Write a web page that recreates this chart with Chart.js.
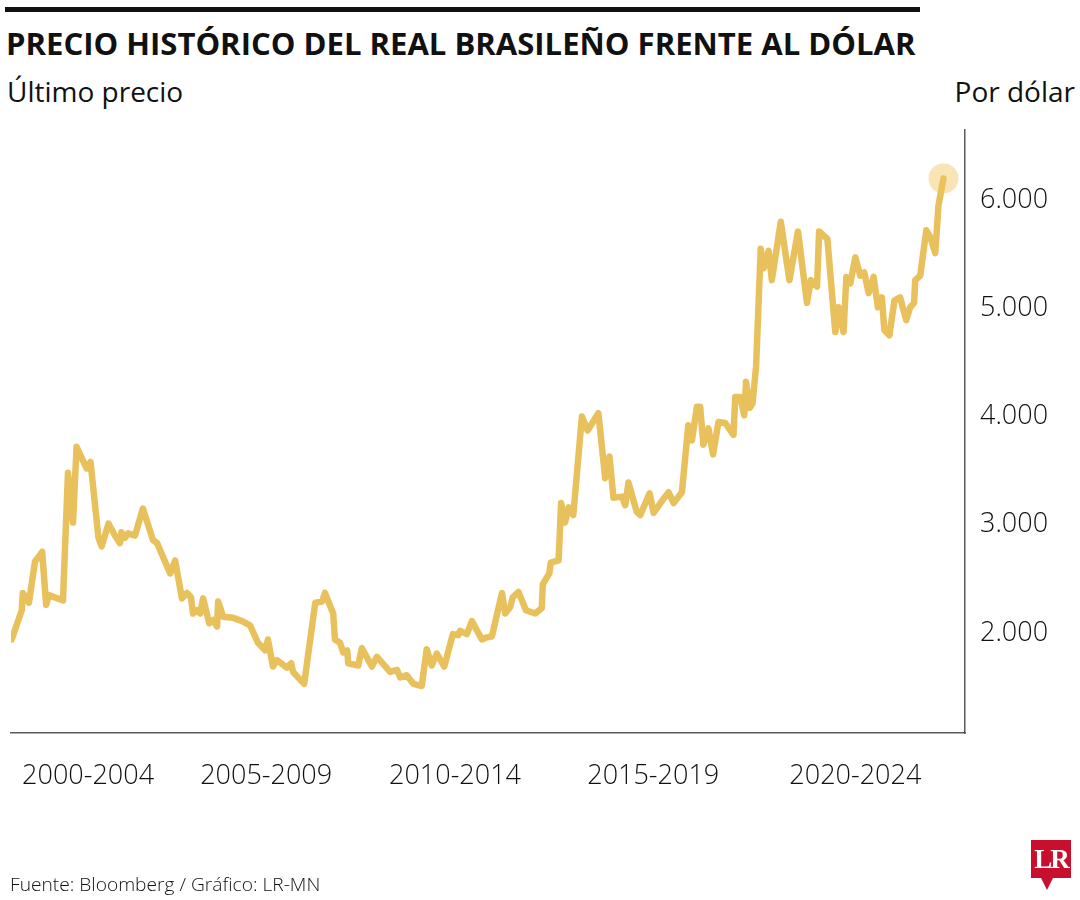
<!DOCTYPE html>
<html lang="es">
<head>
<meta charset="utf-8">
<title>Precio histórico del real brasileño frente al dólar</title>
<script src="https://cdn.jsdelivr.net/npm/chart.js@4.4.1/dist/chart.umd.min.js"></script>
<style>
  html, body { margin: 0; padding: 0; background: #fff; }
  #wrap { position: relative; width: 1080px; height: 900px; overflow: hidden; font-family: "Open Sans", sans-serif; color: #111; }
  #chart { position: absolute; left: 0; top: 0; }
  .bar { position: absolute; left: 5px; top: 7px; width: 915px; height: 5px; background: #111; }
  .txt { position: absolute; margin: 0; white-space: nowrap; line-height: 1; transform-origin: left center; }
  #titulo { left: 6px; top: 29px; font-size: 30px; font-weight: 700; }
  #sub { left: 7px; top: 77px; font-size: 28px; font-weight: 400; }
  #unidad { right: 5px; top: 77px; font-size: 28px; font-weight: 400; }
  #fuente { left: 10px; top: 875px; font-size: 18px; font-weight: 300; }
  #logo { position: absolute; left: 1031px; top: 840px; width: 40px; height: 38px; background: #c8102e;
          color: #fff; font-family: "Liberation Serif", serif; font-weight: 700; font-size: 27px;
          line-height: 38px; text-align: center; letter-spacing: -2px; }
  #logo::after { content: ""; position: absolute; left: 10px; top: 38px; border-left: 6px solid transparent;
                 border-right: 6px solid transparent; border-top: 12px solid #c8102e; }
</style>
</head>
<body>
<div id="wrap">
  <div class="bar"></div>
  <h1 class="txt" id="titulo">PRECIO HISTÓRICO DEL REAL BRASILEÑO FRENTE AL DÓLAR</h1>
  <div class="txt" id="sub">Último precio</div>
  <div class="txt" id="unidad">Por dólar</div>
  <canvas id="chart" width="1080" height="900"></canvas>
  <div class="txt" id="fuente">Fuente: Bloomberg / Gráfico: LR-MN</div>
  <div id="logo">LR</div>
</div>
<script>
// fechas aproximadas (año decimal) y último precio en reales por dólar
const fechas = [
  1999.00, 1999.28, 1999.31, 1999.48, 1999.65, 1999.85, 1999.96, 2000.04, 2000.43, 2000.57,
  2000.71, 2000.81, 2001.09, 2001.20, 2001.42, 2001.51, 2001.70, 2001.88, 2002.02, 2002.06,
  2002.16, 2002.25, 2002.44, 2002.66, 2002.94, 2003.06, 2003.42, 2003.56, 2003.75, 2003.89,
  2004.00, 2004.06, 2004.17, 2004.26, 2004.34, 2004.51, 2004.62, 2004.73, 2004.76, 2004.90,
  2005.18, 2005.43, 2005.65, 2005.87, 2006.07, 2006.15, 2006.29, 2006.40, 2006.68, 2006.80,
  2006.85, 2007.16, 2007.47, 2007.66, 2007.74, 2007.97, 2008.02, 2008.16, 2008.25, 2008.36,
  2008.39, 2008.67, 2008.77, 2009.05, 2009.19, 2009.56, 2009.75, 2009.84, 2010.02, 2010.21,
  2010.44, 2010.58, 2010.72, 2010.86, 2011.07, 2011.31, 2011.46, 2011.51, 2011.70, 2011.84,
  2012.12, 2012.26, 2012.40, 2012.68, 2012.77, 2012.91, 2012.98, 2013.14, 2013.35, 2013.61,
  2013.79, 2013.82, 2014.00, 2014.04, 2014.26, 2014.33, 2014.44, 2014.54, 2014.67, 2014.91,
  2015.07, 2015.37, 2015.56, 2015.68, 2015.79, 2016.03, 2016.12, 2016.21, 2016.44, 2016.54,
  2016.80, 2016.91, 2017.21, 2017.33, 2017.47, 2017.70, 2017.88, 2017.98, 2018.12, 2018.21,
  2018.30, 2018.44, 2018.57, 2018.72, 2018.91, 2019.14, 2019.19, 2019.33, 2019.44, 2019.49,
  2019.59, 2019.67, 2019.77, 2019.90, 2019.98, 2020.12, 2020.21, 2020.46, 2020.70, 2020.94,
  2021.19, 2021.30, 2021.47, 2021.53, 2021.76, 2021.98, 2022.07, 2022.21, 2022.29, 2022.40,
  2022.54, 2022.68, 2022.79, 2022.91, 2023.05, 2023.17, 2023.28, 2023.35, 2023.49, 2023.63,
  2023.79, 2023.96, 2024.07, 2024.18, 2024.21, 2024.35, 2024.52, 2024.63, 2024.77, 2024.86,
  2025.00
];
const precios = [
  1.94, 2.21, 2.37, 2.28, 2.66, 2.75, 2.26, 2.35, 2.30, 3.48,
  3.02, 3.72, 3.52, 3.58, 2.88, 2.80, 3.01, 2.90, 2.83, 2.93,
  2.88, 2.92, 2.90, 3.15, 2.86, 2.83, 2.55, 2.67, 2.32, 2.37,
  2.33, 2.18, 2.21, 2.18, 2.32, 2.09, 2.12, 2.06, 2.29, 2.15,
  2.14, 2.11, 2.07, 1.91, 1.84, 1.94, 1.69, 1.75, 1.68, 1.72,
  1.64, 1.53, 2.28, 2.29, 2.37, 2.18, 1.94, 1.91, 1.82, 1.84,
  1.72, 1.70, 1.86, 1.69, 1.78, 1.64, 1.66, 1.59, 1.61, 1.53,
  1.51, 1.85, 1.70, 1.81, 1.69, 1.99, 1.98, 2.02, 1.99, 2.11,
  1.94, 1.96, 1.97, 2.37, 2.18, 2.24, 2.33, 2.38, 2.21, 2.18,
  2.23, 2.45, 2.55, 2.65, 2.67, 3.20, 3.02, 3.16, 3.09, 4.00,
  3.87, 4.03, 3.43, 3.63, 3.25, 3.26, 3.18, 3.39, 3.12, 3.09,
  3.29, 3.11, 3.25, 3.30, 3.20, 3.30, 3.92, 3.78, 4.09, 4.09,
  3.74, 3.89, 3.65, 3.95, 3.94, 3.83, 4.18, 4.18, 4.01, 4.32,
  4.08, 4.12, 4.46, 5.55, 5.37, 5.53, 5.26, 5.80, 5.26, 5.71,
  5.05, 5.26, 5.20, 5.71, 5.64, 4.78, 5.01, 4.78, 5.29, 5.23,
  5.47, 5.30, 5.33, 5.14, 5.29, 5.01, 5.10, 4.80, 4.75, 5.07,
  5.10, 4.89, 5.01, 5.05, 5.26, 5.30, 5.72, 5.66, 5.51, 5.95,
  6.20
];
const periodos = ['2000-2004', '2005-2009', '2010-2014', '2015-2019', '2020-2024'];
const posPeriodos = [2001.13, 2006.10, 2011.37, 2016.90, 2022.54];
const yTicks = [2, 3, 4, 5, 6];

const puntos = fechas.map((f, i) => ({ x: f, y: precios[i] }));
const ultimo = puntos.length - 1;

// ajustar ancho de los textos condensados
function fitWidth(id, w) {
  const el = document.getElementById(id);
  el.style.transform = `scaleX(${w / el.scrollWidth})`;
}
fitWidth('titulo', 909);
fitWidth('fuente', 310);

const tickFont = { family: 'Open Sans', size: 27, weight: '300' };

new Chart(document.getElementById('chart'), {
  type: 'line',
  data: {
    datasets: [{
      data: puntos,
      borderColor: '#E9C15C',
      borderWidth: 6.5,
      borderJoinStyle: 'round',
      borderCapStyle: 'round',
      tension: 0,
      fill: false,
      pointRadius: puntos.map((_, i) => i === ultimo ? 15 : 0),
      pointHoverRadius: puntos.map((_, i) => i === ultimo ? 15 : 0),
      pointBackgroundColor: 'rgba(242, 196, 90, 0.45)',
      pointBorderWidth: 0
    }]
  },
  options: {
    responsive: false,
    animation: false,
    layout: { autoPadding: false, padding: { left: 11, top: 130, right: 0, bottom: 100 } },
    plugins: { legend: { display: false }, tooltip: { enabled: false } },
    scales: {
      x: {
        type: 'linear',
        min: 1998.98,
        max: 2025.6,
        grid: { display: false, drawTicks: false },
        border: { display: true, color: '#5b5b5b', width: 1.5 },
        afterBuildTicks: s => { s.ticks = posPeriodos.map(v => ({ value: v })); },
        afterFit: s => { s.height = 67; s.paddingLeft = 0; s.paddingRight = 0; },
        ticks: {
          autoSkip: false,
          maxRotation: 0,
          padding: 27,
          color: '#111',
          font: tickFont,
          callback: (v, i) => periodos[i]
        }
      },
      y: {
        position: 'right',
        min: 1.076,
        max: 6.647,
        grid: { display: false, drawTicks: false },
        border: { display: true, color: '#5b5b5b', width: 1.5 },
        afterBuildTicks: s => { s.ticks = yTicks.map(v => ({ value: v })); },
        afterFit: s => { s.width = 115; s.paddingTop = 0; s.paddingBottom = 0; },
        ticks: {
          padding: 15,
          color: '#111',
          font: tickFont,
          callback: v => v.toFixed(3)
        }
      }
    }
  }
});
</script>
</body>
</html>
